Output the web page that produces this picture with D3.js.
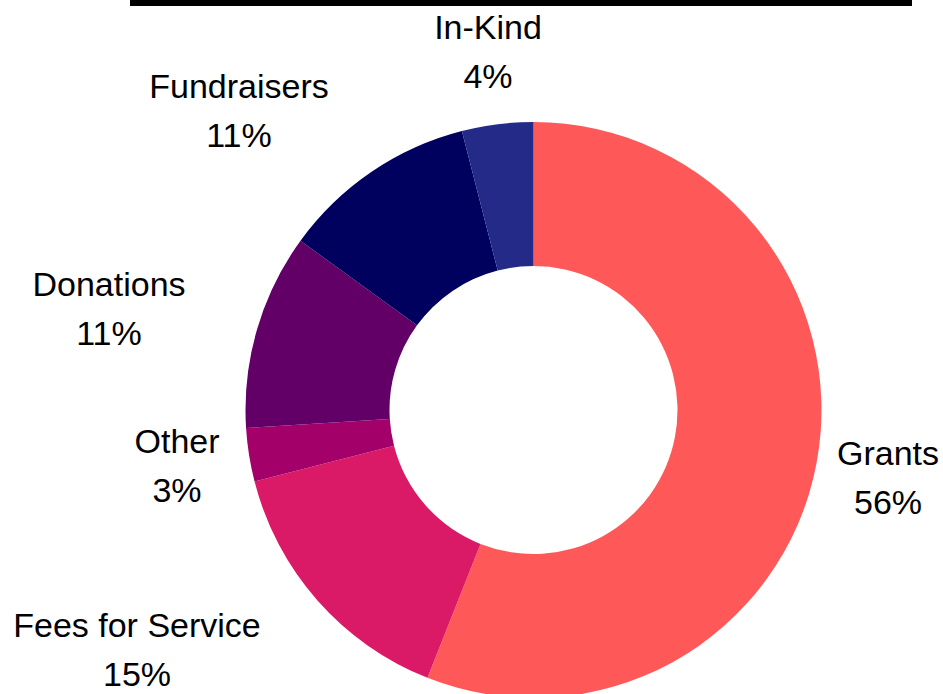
<!DOCTYPE html>
<html>
    <head>
        <meta charset="utf-8" />
        <title>Revenue sources</title>
        <script src="https://d3js.org/d3.v7.min.js"></script>
        <style>
            body { margin: 0; background-color: white; }
            text { font-family: "Liberation Sans", Arial, sans-serif; font-size: 34px; fill: #000; }
        </style>
    </head>
    <body>
        <svg width="943" height="694" id="chart"></svg>

        <script>
            // slices, clockwise from 12 o'clock
            var categories = ["Grants", "Fees for Service", "Other", "Donations", "Fundraisers", "In-Kind"];
            var values = [56, 15, 3, 11, 11, 4];
            var colors = ["#ff5858", "#da1a66", "#a3006a", "#620068", "#00005e", "#242a88"];
            // where each label sits (centre of the text block)
            var labelPos = [[888, 479], [137, 651], [177, 467], [109, 310], [239, 112], [488, 53]];

            var svg = d3.select("#chart");

            // black strip at the top
            svg.append("rect")
                .attr("x", 130).attr("y", 0)
                .attr("width", 782).attr("height", 6)
                .attr("fill", "black");

            var cx = 533.5, cy = 410;
            var g = svg.append("g").attr("transform", "translate(" + cx + "," + cy + ")");

            var pie = d3.pie().sort(null).value(function(d) { return d; });
            var arc = d3.arc().innerRadius(144).outerRadius(288);

            g.selectAll("path")
                .data(pie(values))
                .join("path")
                .attr("d", arc)
                .attr("fill", function(d, i) { return colors[i]; });

            var labels = svg.selectAll("text.lbl")
                .data(categories)
                .join("text")
                .attr("class", "lbl")
                .attr("text-anchor", "middle")
                .attr("transform", function(d, i) {
                    return "translate(" + labelPos[i][0] + "," + labelPos[i][1] + ")";
                });

            labels.append("tspan")
                .attr("x", 0).attr("y", -14)
                .text(function(d) { return d; });

            labels.append("tspan")
                .attr("x", 0).attr("y", 35)
                .text(function(d, i) { return values[i] + "%"; });
        </script>
    </body>
</html>
